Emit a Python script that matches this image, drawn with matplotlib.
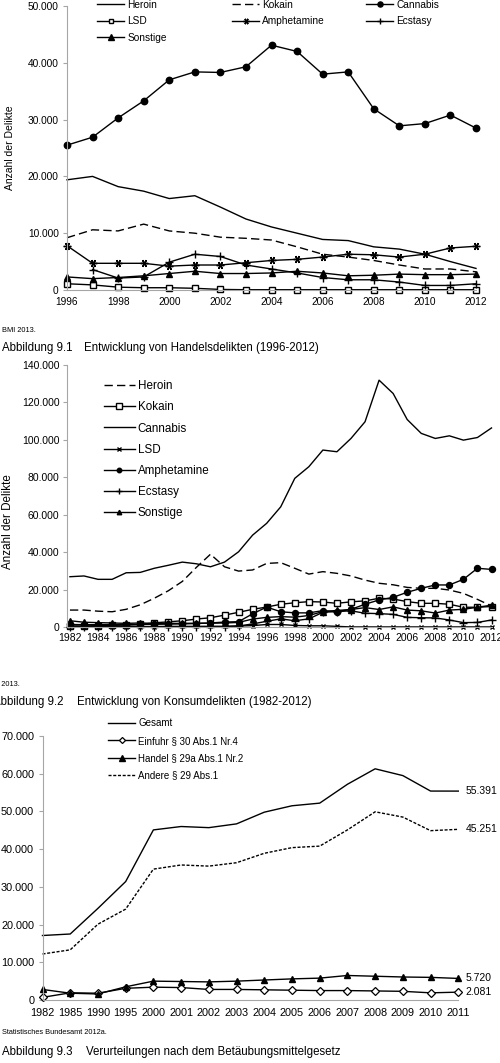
import numpy as np
import matplotlib
matplotlib.use("Agg")
import matplotlib.pyplot as plt
from matplotlib.ticker import FuncFormatter

plt.rcParams["font.family"] = ["Liberation Sans", "DejaVu Sans"]

nan = np.nan

# Abbildung 9.1 - Handelsdelikte
years_handel = list(range(1996, 2013))
handel_heroin = [19400, 20000, 18200, 17400, 16100, 16600, 14600, 12500, 11100, 10000, 8900, 8700, 7600, 7200, 6300, 5000, 3800]
handel_kokain = [9200, 10600, 10400, 11600, 10400, 10000, 9300, 9100, 8800, 7600, 6300, 5800, 5200, 4400, 3700, 3700, 3200]
handel_cannabis = [25500, 26900, 30300, 33300, 37000, 38400, 38300, 39300, 43100, 42000, 38000, 38400, 31900, 28900, 29300, 30800, 28500]
handel_lsd = [1100, 900, 500, 400, 400, 300, 100, 50, 50, 50, 50, 50, 50, 50, 50, 50, 50]
handel_amph = [7800, 4700, 4700, 4700, 4200, 4400, 4400, 4800, 5200, 5400, 5800, 6300, 6200, 5800, 6300, 7400, 7700]
handel_ecstasy = [nan, 3600, 2100, 2300, 4900, 6300, 5900, 4400, 3700, 3000, 2200, 1800, 1800, 1400, 800, 800, 1100]
handel_sonstige = [2300, 2000, 2200, 2500, 2900, 3300, 2900, 2900, 3000, 3300, 3000, 2500, 2600, 2800, 2700, 2700, 2800]

# Abbildung 9.2 - Konsumdelikte
years_konsum = list(range(1982, 2013))
konsum_heroin = [9200, 9200, 8600, 8300, 9600, 12000, 15500, 19500, 24500, 32000, 39000, 32300, 30000, 30600, 34100, 34500,
                 31500, 28400, 29700, 28800, 27400, 25200, 23500, 22700, 21300, 20800, 20800, 19900, 18100, 14900, 11400]
konsum_kokain = [700, 700, 900, 1000, 1200, 1500, 2400, 2900, 3500, 4400, 5100, 6500, 8000, 9600, 10800, 12300,
                 13100, 13700, 13500, 12800, 13600, 14100, 15500, 15100, 13700, 12800, 12800, 12300, 10700, 10700, 11100]
konsum_cannabis = [27000, 27400, 25600, 25600, 29100, 29300, 31500, 33100, 34800, 33900, 32300, 34800, 40300, 49200, 55500, 64300,
                   79500, 85700, 94600, 93700, 100800, 109700, 131900, 124800, 110900, 103500, 100800, 102200, 99900, 101300, 106400]
konsum_lsd = [500, 500, 400, 400, 400, 400, 400, 500, 500, 500, 500, 500, 700, 900, 1500, 1500,
              1000, 800, 800, 500, 200, 200, 200, 200, 200, 200, 200, 200, 200, 200, 200]
konsum_amph = [1500, 1400, 1400, 1400, 1400, 1500, 1600, 1700, 1800, 2000, 2300, 2800, 3000, 7200, 10800, 8300,
               7700, 7700, 8900, 8300, 9600, 12300, 14600, 16000, 18700, 20800, 22600, 22600, 25600, 31500, 30900]
konsum_ecstasy = [200, 200, 200, 200, 200, 200, 200, 300, 300, 300, 400, 400, 700, 1800, 3200, 4500,
                  3500, 4500, 8000, 8400, 8800, 7500, 7300, 6900, 5300, 5100, 5000, 3900, 2500, 2600, 3900]
konsum_sonstige = [3500, 2700, 2500, 2300, 2100, 2300, 2100, 2100, 2100, 2200, 2200, 2300, 2600, 4400, 5300, 5700,
                   5400, 6300, 8400, 9000, 9500, 10500, 9500, 10900, 9200, 8800, 7600, 9200, 9600, 10700, 11800]

# Abbildung 9.3 - Verurteilungen
years_urteil = ["1982", "1985", "1990", "1995", "2000", "2001", "2002", "2003", "2004", "2005",
                "2006", "2007", "2008", "2009", "2010", "2011"]
urteil_gesamt = [17100, 17500, 24300, 31400, 45100, 46000, 45700, 46700, 49800, 51500, 52200, 57200, 61300, 59500, 55400, 55391]
urteil_einfuhr = [700, 1900, 1800, 3100, 3400, 3300, 2800, 2800, 2700, 2600, 2500, 2500, 2400, 2300, 1900, 2081]
urteil_handel = [2800, 1800, 1600, 3500, 5000, 4900, 4800, 5000, 5300, 5600, 5800, 6500, 6300, 6100, 6000, 5720]
urteil_andere = [12200, 13300, 20100, 24100, 34700, 35800, 35500, 36400, 38900, 40400, 40800, 45100, 49900, 48500, 44900, 45251]

W, H = 500, 1063
AXIS_GREY = "#a6a6a6"


def fx(x):
    return x / W


def fy(y):
    return 1 - y / H


def add_axes_px(fig, left, top, right, bottom):
    return fig.add_axes([left / W, 1 - bottom / H, (right - left) / W, (bottom - top) / H])


def thousands(v, pos):
    return f"{int(round(v)):,}".replace(",", ".")


def style_axes(ax, label_size, xpad, ypad):
    for side in ("top", "right"):
        ax.spines[side].set_visible(False)
    ax.spines["left"].set_color(AXIS_GREY)
    ax.spines["bottom"].set_color(AXIS_GREY)
    ax.tick_params(axis="y", direction="out", length=3, width=0.8, color=AXIS_GREY,
                   labelsize=label_size, pad=ypad)
    ax.tick_params(axis="x", length=0, labelsize=label_size, pad=xpad)
    ax.yaxis.set_major_formatter(FuncFormatter(thousands))
    ax.patch.set_alpha(0)


fig = plt.figure(figsize=(5, 10.63), dpi=100)

# ---------- panel 1 ----------
ax1 = add_axes_px(fig, 67, 6, 476, 290)
style_axes(ax1, 7.3, 5, 3)
lw = 1.0
kw = dict(color="black", lw=lw, clip_on=False)
l_her, = ax1.plot(years_handel, handel_heroin, **kw)
l_kok, = ax1.plot(years_handel, handel_kokain, ls=(0, (6, 3)), **kw)
l_can, = ax1.plot(years_handel, handel_cannabis, marker="o", ms=4.6, **kw)
l_lsd, = ax1.plot(years_handel, handel_lsd, marker="s", ms=4.4, mfc="white", mew=1, **kw)
l_amp, = ax1.plot(years_handel, handel_amph, marker=(6, 2, 90), ms=5.5, mew=1, **kw)
l_ecs, = ax1.plot(years_handel, handel_ecstasy, marker="+", ms=6, mew=1, **kw)
l_son, = ax1.plot(years_handel, handel_sonstige, marker="^", ms=4.6, **kw)
ax1.set_xlim(1996, 2012)
ax1.set_ylim(0, 50000)
ax1.set_yticks(range(0, 50001, 10000))
ax1.set_xticks(range(1996, 2013, 2))

leg_kw = dict(frameon=False, borderpad=0, borderaxespad=0, loc="upper left",
              bbox_transform=fig.transFigure)
cols = [([l_her, l_lsd, l_son], ["Heroin", "LSD", "Sonstige"], 97),
        ([l_kok, l_amp], ["Kokain", "Amphetamine"], 232),
        ([l_can, l_ecs], ["Cannabis", "Ecstasy"], 366)]
for handles, labels, xpos in cols:
    fig.legend(handles, labels, bbox_to_anchor=(fx(xpos), fy(0)), fontsize=7.3,
               handlelength=2.7, handletextpad=0.3, labelspacing=0.62, markerscale=0.8, **leg_kw)

fig.text(fx(10), fy(148), "Anzahl der Delikte", rotation=90, fontsize=7.5, ha="center", va="center")
fig.text(fx(2), fy(331), "BMI 2013.", fontsize=5.3, va="center")
fig.text(fx(2), fy(348.3), "Abbildung 9.1", fontsize=8.3, va="center")
fig.text(fx(84), fy(348.3), "Entwicklung von Handelsdelikten (1996-2012)", fontsize=8.3, va="center")

# ---------- panel 2 ----------
ax2 = add_axes_px(fig, 67, 365, 491.5, 627.3)
style_axes(ax2, 7.5, 4, 2.5)
k_her, = ax2.plot(years_konsum, konsum_heroin, ls=(0, (6, 3)), **kw)
k_kok, = ax2.plot(years_konsum, konsum_kokain, marker="s", ms=5, mfc="white", mew=1, **kw)
k_can, = ax2.plot(years_konsum, konsum_cannabis, **kw)
k_lsd, = ax2.plot(years_konsum, konsum_lsd, marker="x", ms=3.5, mew=1, **kw)
k_amp, = ax2.plot(years_konsum, konsum_amph, marker="o", ms=4.3, **kw)
k_ecs, = ax2.plot(years_konsum, konsum_ecstasy, marker="+", ms=6, mew=1, **kw)
k_son, = ax2.plot(years_konsum, konsum_sonstige, marker="^", ms=4.3, **kw)
ax2.set_xlim(1981.79, 2012)
ax2.set_ylim(0, 140000)
ax2.set_yticks(range(0, 140001, 20000))
ax2.set_xticks(range(1982, 2013, 2))
fig.legend([k_her, k_kok, k_can, k_lsd, k_amp, k_ecs, k_son],
           ["Heroin", "Kokain", "Cannabis", "LSD", "Amphetamine", "Ecstasy", "Sonstige"],
           bbox_to_anchor=(fx(104), fy(380.3)), fontsize=8.4, handlelength=2.65,
           handletextpad=0.25, labelspacing=0.78, markerscale=0.75, **leg_kw)

fig.text(fx(8.5), fy(522), "Anzahl der Delikte", rotation=90, fontsize=8.4, ha="center", va="center")
fig.text(fx(20), fy(684), "BMI 2013.", fontsize=5.3, va="center", ha="right")
fig.text(fx(63.3), fy(701.7), "Abbildung 9.2", fontsize=8.3, va="center", ha="right")
fig.text(fx(76.7), fy(701.7), "Entwicklung von Konsumdelikten (1982-2012)", fontsize=8.3, va="center")

# ---------- panel 3 ----------
ax3 = add_axes_px(fig, 42.5, 736, 458.3, 1000)
style_axes(ax3, 7.8, 6, 3)
xs = np.arange(len(years_urteil))
u_ges, = ax3.plot(xs, urteil_gesamt, **kw)
u_ein, = ax3.plot(xs, urteil_einfuhr, marker="D", ms=3.6, mfc="white", mew=0.9, **kw)
u_han, = ax3.plot(xs, urteil_handel, marker="^", ms=4.8, **kw)
u_and, = ax3.plot(xs, urteil_andere, ls=(0, (2.2, 1.2)), **kw)
ax3.set_xlim(0, len(years_urteil) - 1)
ax3.set_ylim(0, 70000)
ax3.set_yticks(range(0, 70001, 10000))
ax3.set_xticks(xs)
ax3.set_xticklabels(years_urteil)
for series in (urteil_gesamt, urteil_andere, urteil_handel, urteil_einfuhr):
    ax3.annotate(thousands(series[-1], None), xy=(xs[-1], series[-1]), xytext=(7, 0),
                 textcoords="offset pixels", fontsize=7.5, va="center", ha="left")
fig.legend([u_ges, u_ein, u_han, u_and],
           ["Gesamt", "Einfuhr § 30 Abs.1 Nr.4", "Handel § 29a Abs.1 Nr.2", "Andere § 29 Abs.1"],
           bbox_to_anchor=(fx(108), fy(718.5)), fontsize=7, handlelength=2.8,
           handletextpad=0.3, labelspacing=0.75, markerscale=0.85, **leg_kw)

fig.text(fx(2), fy(1032.7), "Statistisches Bundesamt 2012a.", fontsize=5.3, va="center")
fig.text(fx(2), fy(1051.7), "Abbildung 9.3", fontsize=8.3, va="center")
fig.text(fx(86), fy(1051.7), "Verurteilungen nach dem Betäubungsmittelgesetz", fontsize=8.3, va="center")

fig.savefig("out.png", dpi=100)
